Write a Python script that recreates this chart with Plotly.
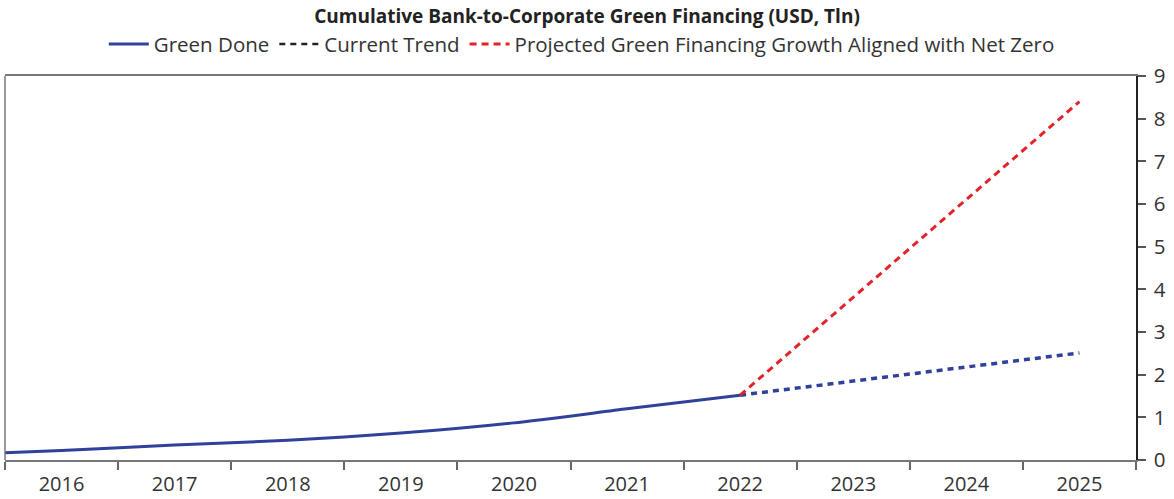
import plotly.graph_objects as go

# Data
done_years = [2015.5, 2016, 2017, 2018, 2019, 2020, 2021, 2022]
done_values = [0.17, 0.22, 0.35, 0.46, 0.63, 0.87, 1.20, 1.52]
trend_years = [2022, 2025]
trend_values = [1.52, 2.51]
netzero_years = [2022, 2025]
netzero_values = [1.52, 8.40]
year_labels = [2016, 2017, 2018, 2019, 2020, 2021, 2022, 2023, 2024, 2025]

BLUE = "#2f419b"
RED = "#e3232a"
FONT = "Open Sans"

fig = go.Figure()
fig.add_trace(go.Scatter(x=done_years, y=done_values, mode="lines", name="Green Done",
                         line=dict(color=BLUE, width=3, shape="spline", smoothing=0.6)))
fig.add_trace(go.Scatter(x=trend_years, y=trend_values, mode="lines", name="Current Trend",
                         showlegend=False, line=dict(color=BLUE, width=3.5, dash="6px,5px")))
fig.add_trace(go.Scatter(x=[None], y=[None], mode="lines", name="Current Trend",
                         line=dict(color="#222222", width=2.5, dash="6px,5px")))
fig.add_trace(go.Scatter(x=netzero_years, y=netzero_values, mode="lines",
                         name="Projected Green Financing Growth Aligned with Net Zero",
                         line=dict(color=RED, width=3, dash="7px,5px")))

fig.update_layout(
    width=1174, height=499,
    margin=dict(l=5, r=38, t=76, b=39),
    paper_bgcolor="white", plot_bgcolor="white",
    font=dict(family=FONT, color="#333333"),
    title=dict(text="<b>Cumulative Bank-to-Corporate Green Financing (USD, Tln)</b>",
               x=0.5, xanchor="center", y=0.968, yanchor="middle",
               font=dict(size=19, color="#222222", family=FONT)),
    legend=dict(orientation="h", x=0.51, xanchor="center", y=1.083, yanchor="middle",
                font=dict(size=20.5, color="#333333"), itemwidth=40, tracegroupgap=0),
    showlegend=True,
)
fig.update_xaxes(
    range=[2015.5, 2025.5], tickvals=year_labels, ticktext=[str(v) for v in year_labels],
    ticks="outside", ticklen=5, tickcolor="rgba(0,0,0,0)",
    minor=dict(tick0=2015.5, dtick=1, ticks="outside", ticklen=8, tickcolor="#666666", tickwidth=1.5),
    showgrid=False, zeroline=False, automargin=False,
    showline=True, linecolor="#777777", linewidth=1.5, mirror=True,
    tickfont=dict(size=20, color="#333333"),
)
fig.update_yaxes(
    range=[0, 9], dtick=1, side="right",
    ticks="outside", ticklen=8, tickcolor="#555555", tickwidth=1.5,
    ticklabelstandoff=4,
    showgrid=False, zeroline=False, automargin=False,
    showline=True, linecolor="#222222", linewidth=1.5,
    tickfont=dict(size=20.5, color="#333333"),
)
fig.add_shape(type="line", xref="paper", yref="paper", x0=0, x1=0, y0=0, y1=1,
              line=dict(color="#777777", width=1.5))

fig.write_html("out.html")
